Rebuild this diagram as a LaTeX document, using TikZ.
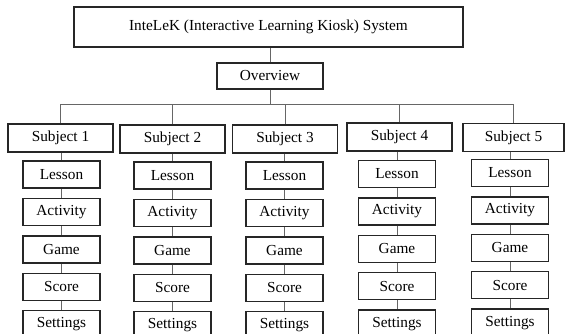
\documentclass[tikz,border=0pt]{standalone}
\usepackage{fontspec}
\setmainfont{Liberation Serif}
\usetikzlibrary{positioning}

\begin{document}
\begin{tikzpicture}[
    x=1pt, y=-1pt,
    node distance=9pt,
    font=\fontsize{15.3}{18}\selectfont,
    box/.style={rectangle, draw=black!85, line width=1.4pt, inner sep=0pt, align=center},
    head/.style={box, minimum height=28pt},
    item/.style={box, minimum width=77pt, minimum height=27pt},
    link/.style={draw=black!60, line width=0.8pt}
]
    \useasboundingbox (0,0) rectangle (565,333);

    \node[box, minimum width=389pt, minimum height=40pt] (system) at (268.5,27) {InteLeK (Interactive Learning Kiosk) System};
    \node[box, minimum width=106pt, minimum height=26pt] (overview) at (270,76) {Overview};
    \coordinate (bus) at (0,104);

    \draw[link] (overview.north) -- (overview.north |- system.south);
    \draw[link] (overview.south) -- (overview.south |- bus);

    % one column per subject: subject box, then its five screens
    \foreach \c/\sx/\sy/\w/\ix/\iy in {1/60.5/138/105/61.5/174.5, 2/172.5/139/105/172.5/175.5,
        3/285/139/105/284.5/175.5, 4/399.5/137/105/397/174, 5/513.5/137.5/101/510/173}{
        \node[head, minimum width=\w pt] (s\c) at (\sx,\sy) {Subject \c};
        \node[item] (l\c) at (\ix,\iy) {Lesson};
        \node[item, below=of l\c] (a\c) {Activity};
        \node[item, below=of a\c] (g\c) {Game};
        \node[item, below=of g\c] (r\c) {Score};
        \node[item, below=of r\c] (t\c) {Settings};

        \draw[link] (s\c.north) -- (s\c.north |- bus);
        \draw[link] (l\c.north |- s\c.south) -- (l\c.north);
        \draw[link] (l\c) -- (a\c);
        \draw[link] (a\c) -- (g\c);
        \draw[link] (g\c) -- (r\c);
        \draw[link] (r\c) -- (t\c);
    }

    \draw[link] (s1.north |- bus) -- (s5.north |- bus);
\end{tikzpicture}
\end{document}
